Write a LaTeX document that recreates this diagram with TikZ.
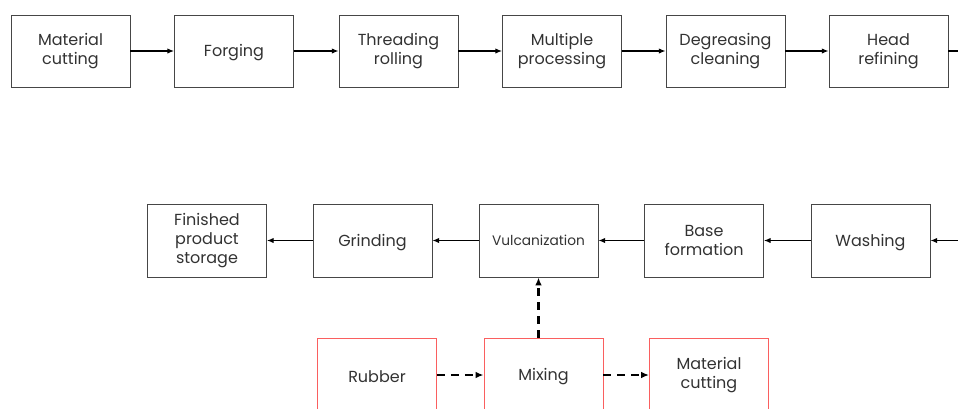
\documentclass[tikz,border=0pt]{standalone}
\usepackage{fontspec}
\setmainfont{Poppins}
\usetikzlibrary{arrows.meta,positioning}
\definecolor{boxline}{RGB}{70,70,70}
\definecolor{boxtext}{RGB}{50,50,50}
\definecolor{rubberred}{RGB}{250,95,95}
\tikzset{
  plainbox/.style={draw=boxline, line width=0.7pt, minimum width=119*0.75pt, minimum height=72*0.75pt,
    inner sep=1pt, align=center, text=boxtext, font=\fontsize{12}{14.3}\selectfont},
  stage/.style={plainbox, execute at begin node={\rule{0pt}{11.5pt}}},
  feed/.style={stage, draw=rubberred, minimum height=74*0.75pt},
  flow/.style={-{Latex[length=5pt,width=4pt]}, line width=0.8pt, black},
  flowdash/.style={-{Latex[length=6pt,width=5pt]}, line width=1.6pt, black, dash pattern=on 6pt off 4.5pt}
}
\begin{document}
\begin{tikzpicture}[x=0.75pt, y=-0.75pt]
  \useasboundingbox (0,0) rectangle (958,408);
  \clip (0,0) rectangle (958,408);
  % top row
  \node[stage] (cut)   at (70.5,51)  {Material\\cutting};
  \node[stage] (forge) at (234,51)   {Forging};
  \node[stage] (thread) at (398.5,51) {Threading\\rolling};
  \node[stage] (multi) at (562,51)   {Multiple\\processing};
  \node[stage] (degr)  at (725.5,51) {Degreasing\\cleaning};
  \node[stage] (head)  at (888.5,51) {Head\\refining};
  \coordinate (topout) at (958,51);
  % bottom row
  \node[stage, minimum height=73*0.75pt] (store) at (207,240.5)   {Finished\\product\\storage};
  \node[stage, minimum height=73*0.75pt] (grind) at (372.5,240.5) {Grinding};
  \node[plainbox, minimum height=73*0.75pt, font=\fontsize{10.3}{12}\selectfont] (vul) at (538.5,240.5) {Vulcanization};
  \node[stage, minimum height=73*0.75pt] (base)  at (704,240.5)   {Base\\formation};
  \node[stage, minimum height=73*0.75pt] (wash)  at (870.5,240.5) {Washing};
  \coordinate (botin) at (958,240.5);
  % rubber line
  \node[feed] (rub) at (377,375)   {Rubber};
  \node[feed] (mix) at (543.5,375) {Mixing};
  \node[feed] (rcut) at (709,375)  {Material\\cutting};

  \draw[flow] (cut) -- (forge);
  \draw[flow] (forge) -- (thread);
  \draw[flow] (thread) -- (multi);
  \draw[flow] (multi) -- (degr);
  \draw[flow] (degr) -- (head);
  \draw[line width=0.8pt] (head) -- (topout);

  \draw[flow] (botin) -- (wash);
  \draw[flow] (wash) -- (base);
  \draw[flow] (base) -- (vul);
  \draw[flow] (vul) -- (grind);
  \draw[flow] (grind) -- (store);

  \draw[flowdash] (rub) -- (mix);
  \draw[flowdash] (mix) -- (rcut);
  \draw[flowdash] (mix.north -| vul.south) -- (vul.south);
\end{tikzpicture}
\end{document}
